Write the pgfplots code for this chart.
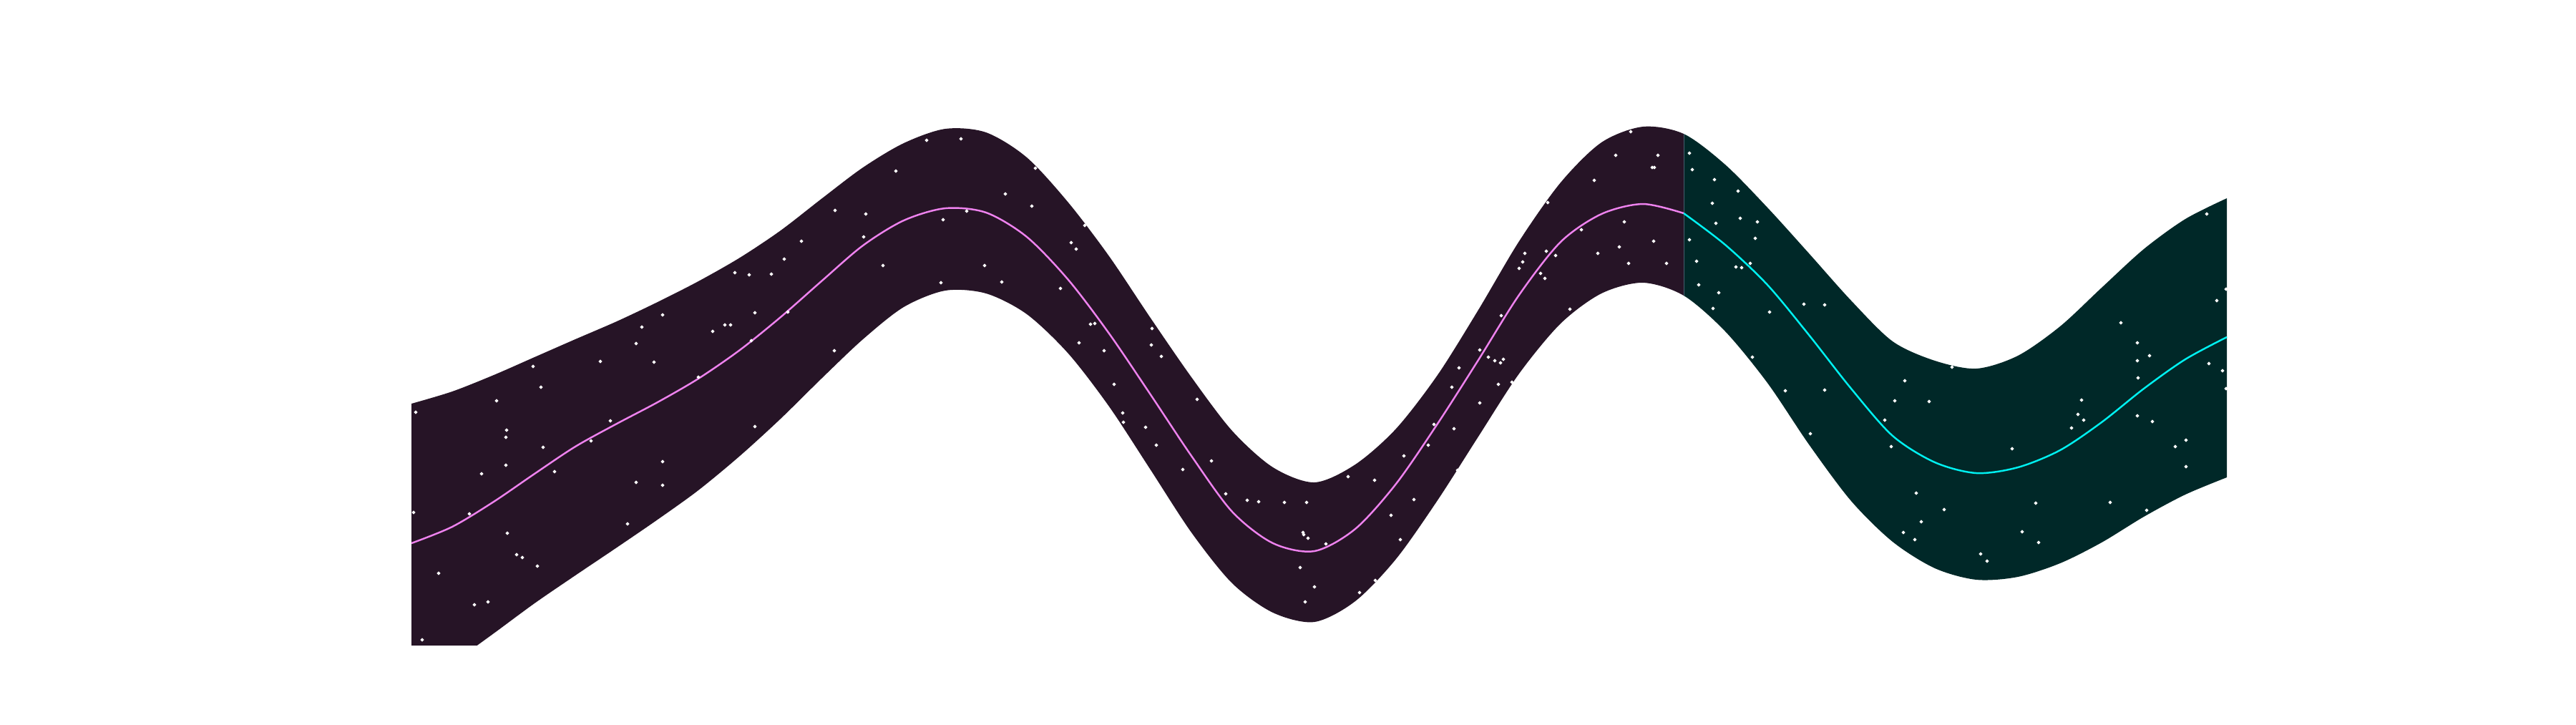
\documentclass[border=0pt]{standalone}
\usepackage{pgfplots}
\pgfplotsset{compat=1.18}
\usepgfplotslibrary{fillbetween}

\definecolor{trainfill}{RGB}{38,20,38}
\definecolor{testfill}{RGB}{0,40,40}
\definecolor{trainline}{RGB}{238,130,238}
\definecolor{testline}{RGB}{0,240,240}
\definecolor{splitline}{RGB}{70,95,110}

\begin{document}
\begin{tikzpicture}
  \begin{axis}[
      scale only axis,
      width=27.9cm, height=7.8cm,
      xmin=450, xmax=3240,
      ymin=121, ymax=901,
      y dir=reverse,
      hide axis,
    ]
    % upper and lower edge of the band
    \addplot[name path=up, draw=none, smooth] coordinates {
      (575,564) (632,547) (690,524) (747,499) (804,474) (862,449) (919,422)
      (976,393) (1034,360) (1091,322) (1149,277) (1206,234) (1263,200)
      (1321,180) (1378,185) (1435,220) (1493,283) (1550,358) (1607,443)
      (1665,527) (1722,602) (1779,653) (1837,674) (1894,649) (1951,599)
      (2009,524) (2066,433) (2123,337) (2181,255) (2238,199) (2296,177)
      (2353,187) (2411,230) (2470,290) (2528,354) (2587,420) (2645,477)
      (2704,504) (2762,515) (2820,497) (2879,456) (2937,402) (2996,348)
      (3054,306) (3112,277)
    };
    \addplot[name path=lo, draw=none, smooth] coordinates {
      (575,969) (632,927) (690,885) (747,843) (804,804) (862,765) (919,726)
      (976,685) (1034,637) (1091,585) (1149,528) (1206,474) (1263,429)
      (1321,406) (1378,410) (1435,439) (1493,494) (1550,568) (1607,655)
      (1665,744) (1722,815) (1779,856) (1837,869) (1894,840) (1951,781)
      (2009,699) (2066,610) (2123,522) (2181,452) (2238,410) (2296,395)
      (2353,413) (2411,463) (2470,535) (2528,621) (2587,700) (2645,757)
      (2704,794) (2762,810) (2820,806) (2879,787) (2937,758) (2996,722)
      (3054,691) (3112,667)
    };
    \addplot[trainfill, draw=none] fill between[of=up and lo, soft clip={domain=400:2353}];
    \addplot[testfill, draw=none] fill between[of=up and lo, soft clip={domain=2353:3300}];
    \addplot[splitline, line width=0.3pt] coordinates {(2353,187) (2353,413)};

    % mean, train part
    \addplot[trainline, line width=0.7pt, smooth] coordinates {
      (575,759) (632,736) (690,701) (747,662) (804,624) (862,592) (919,562)
      (976,529) (1034,489) (1091,443) (1149,392) (1206,343) (1263,308)
      (1321,291) (1378,297) (1435,331) (1493,391) (1550,466) (1607,550)
      (1665,637) (1722,715) (1779,759) (1837,770) (1894,739) (1951,676)
      (2009,592) (2066,503) (2123,412) (2181,338) (2238,299) (2296,285)
      (2353,298)
    };
    % mean, test part
    \addplot[testline, line width=0.7pt, smooth] coordinates {
      (2353,298) (2411,342) (2470,398) (2528,468) (2587,543) (2645,609)
      (2704,646) (2762,661) (2820,653) (2879,629) (2937,590) (2996,543)
      (3054,502) (3112,471)
    };

    % observations
    \addplot[only marks, mark=*, mark size=0.45pt, white] coordinates {
      (581,576) (578,716) (590,894) (613,801) (656,718) (663,845) (673,662)
      (682,841) (694,560) (707,611) (707,650) (708,601) (709,745) (722,775)
      (730,779) (745,512) (751,791) (756,541) (759,625) (775,659) (826,616)
      (839,505) (853,588) (877,732) (889,480) (889,674) (897,457) (914,506)
      (926,440) (926,645) (926,678) (976,527) (996,463) (1013,454) (1021,454)
      (1027,381) (1047,384) (1050,476) (1055,437) (1055,596) (1078,383)
      (1096,362) (1101,436) (1120,337) (1166,490) (1167,294) (1170,257)
      (1207,331) (1210,299) (1234,371) (1252,239) (1295,196) (1315,395)
      (1318,307) (1343,194) (1351,295) (1376,371) (1400,394) (1405,271)
      (1442,288) (1447,235) (1482,403) (1497,339) (1504,348) (1508,479)
      (1516,315) (1524,453) (1530,452) (1543,490) (1557,537) (1569,577)
      (1570,590) (1601,597) (1609,482) (1610,459) (1616,622) (1623,498)
      (1653,656) (1673,558) (1693,644) (1713,690) (1743,699) (1759,701)
      (1795,702) (1817,793) (1821,744) (1822,747) (1824,841) (1826,702)
      (1828,752) (1837,820) (1853,760) (1884,666) (1900,828) (1921,671)
      (1922,811) (1944,720) (1957,754) (1962,637) (1976,698) (1996,622)
      (2004,593) (2029,541) (2032,599) (2037,657) (2039,514) (2068,489)
      (2068,563) (2080,499) (2089,504) (2094,537) (2097,507) (2098,441)
      (2101,502) (2113,534) (2123,375) (2128,366) (2131,354) (2153,382)
      (2159,389) (2161,351) (2163,283) (2174,357) (2194,432) (2210,321)
      (2228,252) (2233,354) (2258,217) (2263,345) (2270,310) (2276,368)
      (2279,184) (2309,234) (2312,234) (2311,337) (2317,217) (2329,368)
      (2361,214) (2361,335) (2365,237) (2371,365) (2374,398) (2393,284)
      (2394,431) (2396,251) (2398,312) (2402,409) (2426,373) (2429,267)
      (2432,305) (2434,374) (2446,368) (2449,499) (2453,333) (2456,310)
      (2473,436) (2495,546) (2521,425) (2530,606) (2550,426) (2550,545)
      (2634,587) (2643,624) (2648,560) (2660,744) (2662,532) (2676,754)
      (2678,689) (2685,729) (2696,561) (2717,712) (2728,513) (2768,774)
      (2777,784) (2812,627) (2826,743) (2845,703) (2849,758) (2895,598)
      (2904,579) (2909,559) (2912,587) (2949,702) (2964,451) (2987,479)
      (2987,504) (2987,581) (2988,528) (3000,713) (3004,497) (3008,589)
      (3040,624) (3055,615) (3055,652) (3084,299) (3087,508) (3098,420)
      (3106,518) (3111,404) (3111,543)
    };
  \end{axis}
  \path (-4.5cm,-1.11cm) rectangle (31.5cm,9.01cm);
\end{tikzpicture}
\end{document}
